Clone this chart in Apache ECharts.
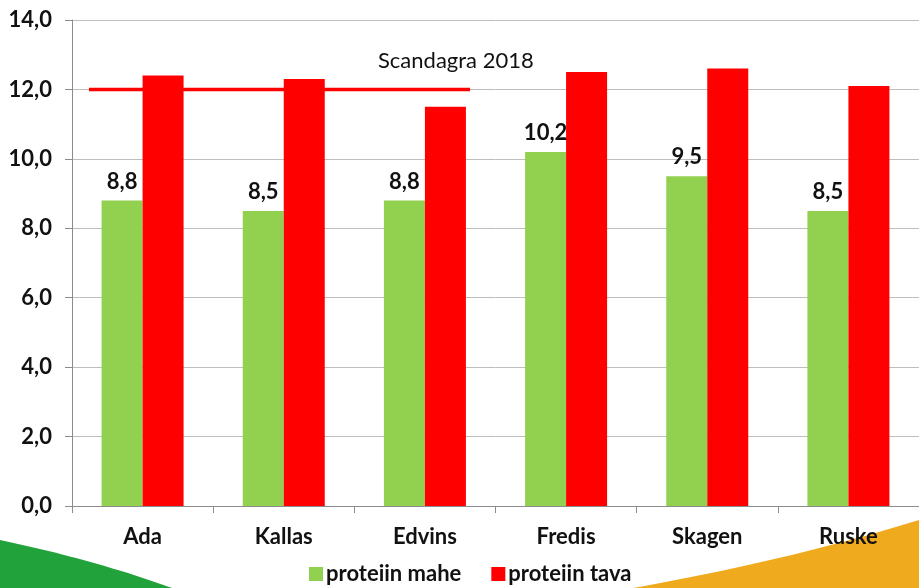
<!DOCTYPE html>
<html>
<head>
<meta charset="utf-8">
<script src="https://cdn.jsdelivr.net/npm/echarts@6/dist/echarts.min.js"></script>
<style>
html,body{margin:0;padding:0;background:#fff;}
#c{width:919px;height:588px;}
</style>
</head>
<body>
<div id="c"></div>
<script>
const categories = ['Ada', 'Kallas', 'Edvins', 'Fredis', 'Skagen', 'Ruske'];
const proteiinMahe = [8.8, 8.5, 8.8, 10.2, 9.5, 8.5];
const proteiinTava = [12.4, 12.3, 11.5, 12.5, 12.6, 12.1];
const refValue = 12.0;
const refSpan = [0.12, 2.82];   // in category units along the x axis
const refLabel = 'Scandagra 2018';
const yTicks = { min: 0, max: 14, interval: 2 };

const FONT = 'Lato, "Open Sans", sans-serif';
const fmt = v => v.toFixed(1).replace('.', ',');

// decorative background swooshes (quadratic curve outlines)
function swoosh(p0, c, p1, extra) {
  const pts = [];
  for (let i = 0; i <= 24; i++) {
    const t = i / 24, u = 1 - t;
    pts.push([u*u*p0[0] + 2*u*t*c[0] + t*t*p1[0], u*u*p0[1] + 2*u*t*c[1] + t*t*p1[1]]);
  }
  return pts.concat(extra);
}

const chart = echarts.init(document.getElementById('c'), null, { renderer: 'canvas' });
chart.setOption({
  animation: false,
  backgroundColor: '#fff',
  textStyle: { fontFamily: FONT },
  graphic: [
    { type: 'polygon', z: -10, silent: true,
      shape: { points: swoosh([0,540],[95,560],[172,588],[[0,588]]) },
      style: { fill: '#22a23a' } },
    { type: 'polygon', z: -10, silent: true,
      shape: { points: swoosh([633,588],[790,560],[919,520],[[919,588]]) },
      style: { fill: '#f0aa1e' } },
    { type: 'text', z: 10, left: 378, top: 50,
      style: { text: refLabel, font: '22px ' + FONT, fill: '#111' } }
  ],
  grid: { left: 72, top: 20, width: 852, bottom: 82, containLabel: false },
  legend: {
    left: 309, top: 563, padding: 0,
    itemWidth: 14, itemHeight: 14, itemGap: 30, icon: 'rect',
    textStyle: { fontFamily: FONT, fontSize: 22, fontWeight: 'bold', color: '#111', padding: [0,0,0,-2] },
    data: ['proteiin mahe', 'proteiin tava']
  },
  xAxis: [{
    type: 'category', data: categories,
    axisLine: { lineStyle: { color: '#8c8c8c' } },
    axisTick: { show: true, length: 7, lineStyle: { color: '#8c8c8c' } },
    axisLabel: { margin: 20, fontFamily: FONT, fontSize: 22, fontWeight: 'bold', color: '#111' }
  }, {
    type: 'value', min: 0, max: 6, show: false
  }],
  yAxis: {
    type: 'value', min: yTicks.min, max: yTicks.max, interval: yTicks.interval,
    axisLine: { show: true, lineStyle: { color: '#8c8c8c' } },
    axisTick: { show: true, length: 7, lineStyle: { color: '#8c8c8c' } },
    splitLine: { lineStyle: { color: '#bdbdbd', width: 1 } },
    axisLabel: { margin: 20, fontFamily: FONT, fontSize: 22, fontWeight: 'bold', color: '#111',
      formatter: v => fmt(v) }
  },
  series: [{
    name: 'proteiin mahe', type: 'bar', data: proteiinMahe,
    barWidth: 41, barGap: '0%',
    itemStyle: { color: '#92d050' },
    label: { show: true, position: 'top', distance: 8, fontFamily: FONT, fontSize: 22,
      fontWeight: 'bold', color: '#111', formatter: p => fmt(p.value) }
  }, {
    name: 'proteiin tava', type: 'bar', data: proteiinTava,
    barWidth: 41, barGap: '0%',
    itemStyle: { color: '#ff0000' }
  }, {
    name: 'ref', type: 'line', xAxisIndex: 1, z: 1,
    data: [[refSpan[0], refValue], [refSpan[1], refValue]],
    symbol: 'none', lineStyle: { color: '#ff0000', width: 3.5 }
  }]
});
</script>
</body>
</html>
